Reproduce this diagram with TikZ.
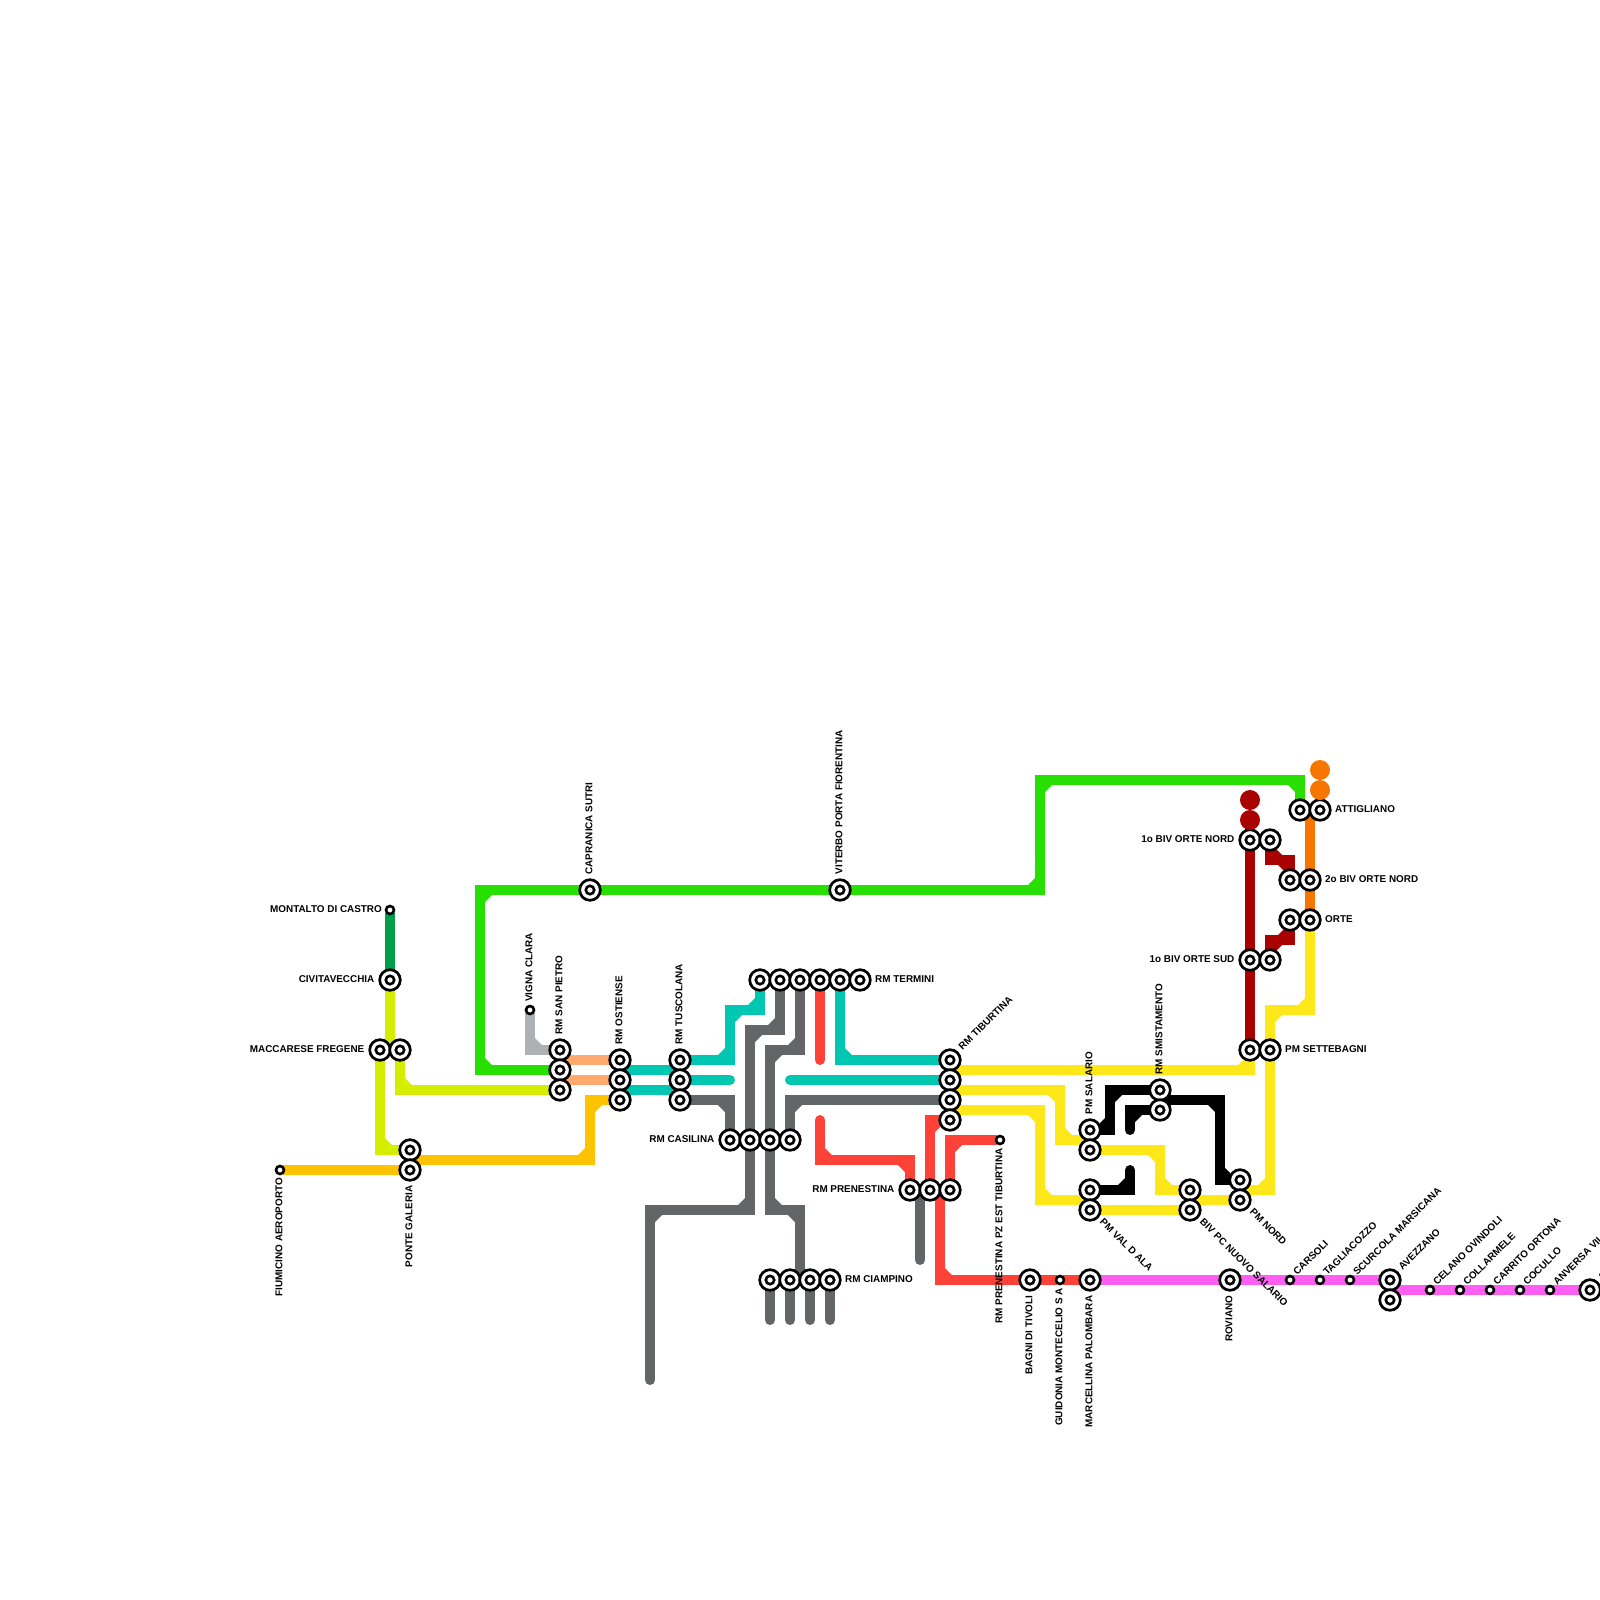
\documentclass[tikz,border=0pt]{standalone}
\usepackage{fontspec}
\setmainfont{Liberation Sans}
\usetikzlibrary{backgrounds}

\definecolor{cgreen}{HTML}{27DF00}
\definecolor{cforest}{HTML}{009E49}
\definecolor{clime}{HTML}{D4ED00}
\definecolor{cgold}{HTML}{FDC300}
\definecolor{cpeach}{HTML}{FFA96E}
\definecolor{cteal}{HTML}{00C7B1}
\definecolor{cgrey}{HTML}{636666}
\definecolor{cpale}{HTML}{AEB1B3}
\definecolor{cred}{HTML}{FF4238}
\definecolor{cyellow}{HTML}{FFE81A}
\definecolor{cdark}{HTML}{A90000}
\definecolor{corange}{HTML}{F67600}
\definecolor{cpink}{HTML}{FF5EF2}

\begin{document}
\begin{tikzpicture}[x=1pt, y=-1pt,
      bigstop/.style={circle, draw, fill=white, line width=2.7pt, minimum size=20.6pt, inner sep=0pt, outer sep=0pt,
                  path picture={\draw[line width=2.6pt] (path picture bounding box.center) circle (4.2pt);}},
      smallstop/.style={circle, draw, fill=white, line width=2.6pt, minimum size=8pt, inner sep=0pt, outer sep=0pt},
      enddot/.style={circle, minimum size=20pt, inner sep=0pt, outer sep=0pt},
      stoptag/.style={font=\fontsize{9.9}{10}\selectfont\bfseries, inner sep=0pt,
                  text height=7.2pt, text depth=2.6pt},
      tagright/.style={stoptag, anchor=west},
      tagleft/.style={stoptag, anchor=east},
      tagup/.style={stoptag, rotate=90, anchor=west},
      tagdown/.style={stoptag, rotate=90, anchor=east},
      tagne/.style={stoptag, rotate=45, anchor=west},
      tagse/.style={stoptag, rotate=-45, anchor=west},
      rail/.style={line width=10pt, line cap=round, line join=miter}]
    \useasboundingbox (0,0) rectangle (1600,1600);

    % west side
    \node[smallstop] (mdc) at (390,910) {};
    \node[bigstop] (civ) at (390,980) {};
    \node[bigstop] (mf1) at (380,1050) {};
    \node[bigstop] (mf2) at (400,1050) {};
    \node[bigstop] (pg1) at (410,1150) {};
    \node[bigstop] (pg2) at (410,1170) {};
    \node[smallstop] (fco) at (280,1170) {};
    \node[bigstop] (cap) at (590,890) {};
    \node[bigstop] (vit) at (840,890) {};
    \node[smallstop] (vcl) at (530,1010) {};
    \node[bigstop] (sp1) at (560,1050) {};
    \node[bigstop] (sp2) at (560,1070) {};
    \node[bigstop] (sp3) at (560,1090) {};
    \node[bigstop] (ot1) at (620,1060) {};
    \node[bigstop] (ot2) at (620,1080) {};
    \node[bigstop] (ot3) at (620,1100) {};
    \node[bigstop] (tu1) at (680,1060) {};
    \node[bigstop] (tu2) at (680,1080) {};
    \node[bigstop] (tu3) at (680,1100) {};

    % rome hubs
    \node[bigstop] (cs1) at (730,1140) {};
    \node[bigstop] (cs2) at (750,1140) {};
    \node[bigstop] (cs3) at (770,1140) {};
    \node[bigstop] (cs4) at (790,1140) {};
    \node[bigstop] (te1) at (760,980) {};
    \node[bigstop] (te2) at (780,980) {};
    \node[bigstop] (te3) at (800,980) {};
    \node[bigstop] (te4) at (820,980) {};
    \node[bigstop] (te5) at (840,980) {};
    \node[bigstop] (te6) at (860,980) {};
    \node[bigstop] (ti1) at (950,1060) {};
    \node[bigstop] (ti2) at (950,1080) {};
    \node[bigstop] (ti3) at (950,1100) {};
    \node[bigstop] (ti4) at (950,1120) {};
    \node[bigstop] (pr1) at (910,1190) {};
    \node[bigstop] (pr2) at (930,1190) {};
    \node[bigstop] (pr3) at (950,1190) {};
    \node[smallstop] (pet) at (1000,1140) {};
    \node[bigstop] (ci1) at (770,1280) {};
    \node[bigstop] (ci2) at (790,1280) {};
    \node[bigstop] (ci3) at (810,1280) {};
    \node[bigstop] (ci4) at (830,1280) {};

    % north east
    \node[bigstop] (ps1) at (1090,1130) {};
    \node[bigstop] (ps2) at (1090,1150) {};
    \node[bigstop] (va1) at (1090,1190) {};
    \node[bigstop] (va2) at (1090,1210) {};
    \node[bigstop] (sm1) at (1160,1090) {};
    \node[bigstop] (sm2) at (1160,1110) {};
    \node[bigstop] (bp1) at (1190,1190) {};
    \node[bigstop] (bp2) at (1190,1210) {};
    \node[bigstop] (pn1) at (1240,1180) {};
    \node[bigstop] (pn2) at (1240,1200) {};
    \node[bigstop] (se1) at (1250,1050) {};
    \node[bigstop] (se2) at (1270,1050) {};
    \node[bigstop] (sd1) at (1250,960) {};
    \node[bigstop] (sd2) at (1270,960) {};
    \node[bigstop] (on1) at (1250,840) {};
    \node[bigstop] (on2) at (1270,840) {};
    \node[bigstop] (bn1) at (1290,880) {};
    \node[bigstop] (bn2) at (1310,880) {};
    \node[bigstop] (or1) at (1290,920) {};
    \node[bigstop] (or2) at (1310,920) {};
    \node[bigstop] (at1) at (1300,810) {};
    \node[bigstop] (at2) at (1320,810) {};
    \node[enddot, fill=cdark] (dr1) at (1250,800) {};
    \node[enddot, fill=cdark] (dr2) at (1250,820) {};
    \node[enddot, fill=corange] (do1) at (1320,770) {};
    \node[enddot, fill=corange] (do2) at (1320,790) {};

    % east line
    \node[bigstop] (bag) at (1030,1280) {};
    \node[smallstop] (gui) at (1060,1280) {};
    \node[bigstop] (mar) at (1090,1280) {};
    \node[bigstop] (rov) at (1230,1280) {};
    \node[smallstop] (car) at (1290,1280) {};
    \node[smallstop] (tgl) at (1320,1280) {};
    \node[smallstop] (scu) at (1350,1280) {};
    \node[bigstop] (av1) at (1390,1280) {};
    \node[bigstop] (av2) at (1390,1300) {};
    \node[smallstop] (cel) at (1430,1290) {};
    \node[smallstop] (col) at (1460,1290) {};
    \node[smallstop] (crt) at (1490,1290) {};
    \node[smallstop] (coc) at (1520,1290) {};
    \node[smallstop] (anv) at (1550,1290) {};
    \node[bigstop] (lst) at (1590,1290) {};

    % free ends
    \coordinate (pgm) at (410,1160);
    \coordinate (spa) at (560,1060);
    \coordinate (spb) at (560,1080);
    \coordinate (tub) at (730,1080);
    \coordinate (tib) at (790,1080);
    \coordinate (rda) at (820,1060);
    \coordinate (rdb) at (820,1120);
    \coordinate (prs) at (920,1260);
    \coordinate (prm) at (920,1190);
    \coordinate (prn) at (940,1190);
    \coordinate (gy1) at (650,1380);
    \coordinate (st1) at (770,1320);
    \coordinate (st2) at (790,1320);
    \coordinate (st3) at (810,1320);
    \coordinate (st4) at (830,1320);
    \coordinate (blu) at (1130,1130);
    \coordinate (bld) at (1130,1170);
    \coordinate (smm) at (1160,1100);
    \coordinate (pnt) at (1240,1190);
    \coordinate (bpm) at (1190,1200);
    \coordinate (avm) at (1390,1290);

    \begin{scope}[on background layer]
    \draw[rail, cforest] (mdc) -- (civ);
    \draw[rail, clime] (civ) -- (390,1050);
    \draw[rail, clime] (mf1) -- (380,1150) -- (pg1);
    \draw[rail, clime] (mf2) -- (400,1090) -- (sp3);
    \draw[rail, cgold] (fco) -- (pg2);
    \draw[rail, cgold] (pgm) -- (590,1160) -- (590,1100) -- (ot3);
    \draw[rail, cgreen] (sp2) -- (480,1070) -- (480,890) -- (cap) -- (vit) -- (1040,890) -- (1040,780) -- (1300,780) -- (at1);
    \draw[rail, cpale] (vcl) -- (530,1050) -- (sp1);
    \draw[rail, cpeach] (spa) -- (ot1);
    \draw[rail, cpeach] (spb) -- (ot2);
    \draw[rail, cteal] (620,1070) -- (680,1070);
    \draw[rail, cteal] (620,1090) -- (680,1090);
    \draw[rail, cteal] (tu1) -- (730,1060) -- (730,1010) -- (760,1010) -- (te1);
    \draw[rail, cteal] (tu2) -- (tub);
    \draw[rail, cteal] (tib) -- (ti2);
    \draw[rail, cteal] (te5) -- (840,1060) -- (ti1);
    \draw[rail, cgrey] (tu3) -- (730,1100) -- (cs1);
    \draw[rail, cgrey] (cs2) -- (750,1030) -- (780,1030) -- (te2);
    \draw[rail, cgrey] (cs3) -- (770,1050) -- (800,1050) -- (te3);
    \draw[rail, cgrey] (cs4) -- (790,1100) -- (ti3);
    \draw[rail, cgrey] (cs2) -- (750,1210) -- (650,1210) -- (gy1);
    \draw[rail, cgrey] (cs3) -- (770,1210) -- (800,1210) -- (800,1280);
    \draw[rail, cgrey] (ci1) -- (st1);
    \draw[rail, cgrey] (ci2) -- (st2);
    \draw[rail, cgrey] (ci3) -- (st3);
    \draw[rail, cgrey] (ci4) -- (st4);
    \draw[rail, cgrey] (prm) -- (prs);
    \draw[rail, cred] (te4) -- (rda);
    \draw[rail, cred] (rdb) -- (820,1160) -- (910,1160) -- (pr1);
    \draw[rail, cred] (pr2) -- (930,1120) -- (ti4);
    \draw[rail, cred] (pr3) -- (950,1140) -- (pet);
    \draw[rail, cred] (prn) -- (940,1280) -- (bag) -- (gui) -- (mar);
    \draw[rail, cyellow] (950,1070) -- (1250,1070) -- (se1);
    \draw[rail, cyellow] (950,1090) -- (1060,1090) -- (1060,1140) -- (1090,1140);
    \draw[rail, cyellow] (950,1110) -- (1040,1110) -- (1040,1200) -- (1090,1200);
    \draw[rail, cyellow] (ps2) -- (1160,1150) -- (1160,1190) -- (bp1);
    \draw[rail, cyellow] (va2) -- (bp2);
    \draw[rail, cyellow] (bpm) -- (pn2);
    \draw[rail, cyellow] (pnt) -- (1270,1190) -- (1270,1010) -- (1310,1010) -- (or2);
    \draw[rail, black] (ps1) -- (1110,1130) -- (1110,1090) -- (sm1);
    \draw[rail, black] (blu) -- (1130,1110) -- (sm2);
    \draw[rail, black] (smm) -- (1220,1100) -- (1220,1180) -- (pn1);
    \draw[rail, black] (va1) -- (1130,1190) -- (bld);
    \draw[rail, cdark] (dr2) -- (on1) -- (sd1) -- (se1);
    \draw[rail, cdark] (on2) -- (1270,860) -- (1290,860) -- (bn1);
    \draw[rail, cdark] (sd2) -- (1270,940) -- (1290,940) -- (or1);
    \draw[rail, corange] (1310,810) -- (bn2) -- (or2);
    \draw[rail, cpink] (mar) -- (rov) -- (av1);
    \draw[rail, cpink] (avm) -- (lst);

    % inner side of the bends
    \foreach \c/\x/\y/\sx/\sy in {cgreen/480/1070/1/-1, cgreen/480/890/1/1, cgreen/1040/890/-1/-1,
        cgreen/1040/780/1/1, cgreen/1300/780/-1/1, cgold/590/1160/-1/-1, cgold/590/1100/1/1,
        clime/380/1150/1/-1, clime/400/1090/1/-1, cpale/530/1050/1/-1,
        cteal/730/1060/-1/-1, cteal/730/1010/1/1, cteal/760/1010/-1/-1, cteal/840/1060/1/-1,
        cgrey/730/1100/-1/1, cgrey/750/1030/1/1, cgrey/780/1030/-1/-1, cgrey/770/1050/1/1,
        cgrey/800/1050/-1/-1, cgrey/790/1100/1/1, cgrey/750/1210/-1/-1, cgrey/650/1210/1/1,
        cgrey/770/1210/1/-1, cgrey/800/1210/-1/1,
        cred/820/1160/1/-1, cred/910/1160/-1/1, cred/930/1120/1/1, cred/950/1140/1/1, cred/940/1280/1/-1,
        cyellow/1250/1070/-1/-1, cyellow/1060/1090/-1/1, cyellow/1060/1140/1/-1, cyellow/1040/1110/-1/1,
        cyellow/1040/1200/1/-1, cyellow/1160/1150/-1/1, cyellow/1160/1190/1/-1, cyellow/1270/1190/-1/-1,
        cyellow/1270/1010/1/1, cyellow/1310/1010/-1/-1,
        black/1110/1130/-1/-1, black/1110/1090/1/1, black/1130/1110/1/1, black/1220/1100/-1/1,
        black/1220/1180/1/-1, black/1130/1190/-1/-1,
        cdark/1270/860/1/-1, cdark/1290/860/-1/1, cdark/1270/940/1/1, cdark/1290/940/-1/-1}
      \fill[\c] (\x+4*\sx,\y+4*\sy) -- ++(9*\sx,0) -- ++(-9*\sx,9*\sy) -- cycle;
    \end{scope}

    % labels
    \node[tagleft] (mdcL) at ([xshift=-8pt]mdc) {MONTALTO DI CASTRO};
    \node[tagleft] (civL) at ([xshift=-15.5pt]civ) {CIVITAVECCHIA};
    \node[tagleft] (mf1L) at ([xshift=-15.5pt]mf1) {MACCARESE FREGENE};
    \node[tagleft] (cs1L) at ([xshift=-15.5pt]cs1) {RM CASILINA};
    \node[tagleft] (pr1L) at ([xshift=-15.5pt]pr1) {RM PRENESTINA};
    \node[tagleft] (on1L) at ([xshift=-15.5pt]on1) {1o BIV ORTE NORD};
    \node[tagleft] (sd1L) at ([xshift=-15.5pt]sd1) {1o BIV ORTE SUD};
    \node[tagright] (te6L) at ([xshift=15pt]te6) {RM TERMINI};
    \node[tagright] (ci4L) at ([xshift=15pt]ci4) {RM CIAMPINO};
    \node[tagright] (at2L) at ([xshift=15pt]at2) {ATTIGLIANO};
    \node[tagright] (bn2L) at ([xshift=15pt]bn2) {2o BIV ORTE NORD};
    \node[tagright] (or2L) at ([xshift=15pt]or2) {ORTE};
    \node[tagright] (se2L) at ([xshift=15pt]se2) {PM SETTEBAGNI};
    \node[tagup] (capL) at ([yshift=15.5pt]cap) {CAPRANICA SUTRI};
    \node[tagup] (vitL) at ([yshift=15.5pt]vit) {VITERBO PORTA FIORENTINA};
    \node[tagup] (vclL) at ([yshift=8pt]vcl) {VIGNA CLARA};
    \node[tagup] (sp1L) at ([yshift=15.5pt]sp1) {RM SAN PIETRO};
    \node[tagup] (ot1L) at ([yshift=15.5pt]ot1) {RM OSTIENSE};
    \node[tagup] (tu1L) at ([yshift=15.5pt]tu1) {RM TUSCOLANA};
    \node[tagup] (ps1L) at ([yshift=15.5pt]ps1) {PM SALARIO};
    \node[tagup] (sm1L) at ([yshift=15.5pt]sm1) {RM SMISTAMENTO};
    \node[tagdown] (fcoL) at ([yshift=-8pt]fco) {FIUMICINO AEROPORTO};
    \node[tagdown] (pg2L) at ([yshift=-15.5pt]pg2) {PONTE GALERIA};
    \node[tagdown] (petL) at ([yshift=-8pt]pet) {RM PRENESTINA PZ EST TIBURTINA};
    \node[tagdown] (bagL) at ([yshift=-15.5pt]bag) {BAGNI DI TIVOLI};
    \node[tagdown] (guiL) at ([yshift=-8pt]gui) {GUIDONIA MONTECELIO S A};
    \node[tagdown] (marL) at ([yshift=-15.5pt]mar) {MARCELLINA PALOMBARA};
    \node[tagdown] (rovL) at ([yshift=-15.5pt]rov) {ROVIANO};
    \node[tagne] (ti1L) at ([shift={(45:15.5pt)}]ti1) {RM TIBURTINA};
    \node[tagne] (carL) at ([shift={(45:8pt)}]car) {CARSOLI};
    \node[tagne] (tglL) at ([shift={(45:8pt)}]tgl) {TAGLIACOZZO};
    \node[tagne] (scuL) at ([shift={(45:8pt)}]scu) {SCURCOLA MARSICANA};
    \node[tagne] (av1L) at ([shift={(45:15.5pt)}]av1) {AVEZZANO};
    \node[tagne] (celL) at ([shift={(45:8pt)}]cel) {CELANO OVINDOLI};
    \node[tagne] (colL) at ([shift={(45:8pt)}]col) {COLLARMELE};
    \node[tagne] (crtL) at ([shift={(45:8pt)}]crt) {CARRITO ORTONA};
    \node[tagne] (cocL) at ([shift={(45:8pt)}]coc) {COCULLO};
    \node[tagne] (anvL) at ([shift={(45:8pt)}]anv) {ANVERSA VIL};
    \node[tagne] (lstL) at ([shift={(45:15.5pt)}]lst) {S};
    \node[tagse] (va2L) at ([shift={(-45:15.5pt)}]va2) {PM VAL D ALA};
    \node[tagse] (bp2L) at ([shift={(-45:15.5pt)}]bp2) {BIV PC NUOVO SALARIO};
    \node[tagse] (pn2L) at ([shift={(-45:15.5pt)}]pn2) {PM NORD};
  \end{tikzpicture}
\end{document}
